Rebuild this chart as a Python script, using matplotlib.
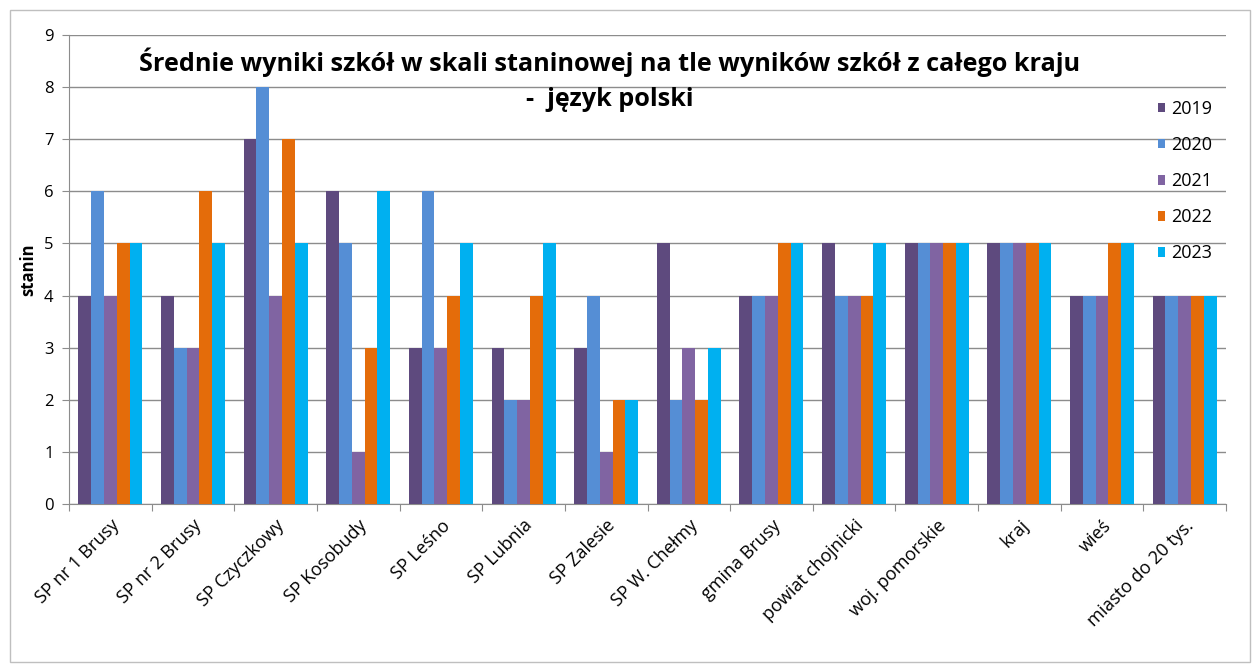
import matplotlib
matplotlib.use("Agg")
import matplotlib.pyplot as plt
import numpy as np
from matplotlib.patches import Rectangle

categories = ["SP nr 1 Brusy", "SP nr 2 Brusy", "SP Czyczkowy", "SP Kosobudy", "SP Leśno",
              "SP Lubnia", "SP Zalesie", "SP W. Chełmy", "gmina Brusy", "powiat chojnicki",
              "woj. pomorskie", "kraj", "wieś", "miasto do 20 tys."]
years = ["2019", "2020", "2021", "2022", "2023"]
v2019 = [4, 4, 7, 6, 3, 3, 3, 5, 4, 5, 5, 5, 4, 4]
v2020 = [6, 3, 8, 5, 6, 2, 4, 2, 4, 4, 5, 5, 4, 4]
v2021 = [4, 3, 4, 1, 3, 2, 1, 3, 4, 4, 5, 5, 4, 4]
v2022 = [5, 6, 7, 3, 4, 4, 2, 2, 5, 4, 5, 5, 5, 4]
v2023 = [5, 5, 5, 6, 5, 5, 2, 3, 5, 5, 5, 5, 5, 4]
series = [v2019, v2020, v2021, v2022, v2023]
colors = ["#5E4A7E", "#558ED5", "#8064A2", "#E46C0A", "#00B0F0"]

plt.rcParams['font.family'] = ['Open Sans', 'DejaVu Sans']

fig = plt.figure(figsize=(12.58, 6.71), dpi=100)
fig.patches.append(Rectangle((10/1258, 1-662/671), 1240/1258, 652/671, transform=fig.transFigure,
                             fill=False, edgecolor="#BFBFBF", linewidth=1))
ax = fig.add_axes([69/1258, 1-504/671, (1226-69)/1258, (504-35)/671])

n = len(categories)
x = np.arange(n)
bw = 0.155
for i, (s, c) in enumerate(zip(series, colors)):
    ax.bar(x + (i - 2) * bw, s, width=bw, color=c, label=years[i], zorder=3)

ax.set_xlim(-0.5, n - 0.5)
ax.set_ylim(0, 9)
ax.set_yticks(range(10))
ax.yaxis.grid(True, color="#8C8C8C", linewidth=1, zorder=0)
ax.set_axisbelow(True)
for sp in ["top", "right"]:
    ax.spines[sp].set_visible(False)
ax.spines["left"].set_color("#8C8C8C")
ax.spines["bottom"].set_color("#8C8C8C")
ax.set_xticks(np.arange(n + 1) - 0.5)
ax.set_xticklabels([])
ax.set_xticks(x, minor=True)
ax.set_xticklabels(categories, minor=True, rotation=45, ha="right", rotation_mode="anchor",
                   fontsize=13)
ax.tick_params(axis="x", which="minor", length=0, pad=9)
ax.tick_params(axis="x", which="major", length=5, color="#8C8C8C")
ax.tick_params(axis="y", length=5, color="#8C8C8C", labelsize=12, pad=6)
ax.set_ylabel("stanin", fontsize=12, fontweight="bold", labelpad=5)

fig.text(610/1258, 1-62/671, "Średnie wyniki szkół w skali staninowej na tle wyników szkół z całego kraju",
         ha="center", va="center", fontsize=18.2, fontweight="bold")
fig.text(610/1258, 1-100/671, "-  język polski", ha="center", va="center", fontsize=18.2, fontweight="bold")

leg = ax.legend(loc="upper left", bbox_to_anchor=(1158/1258, 1-100/671), bbox_transform=fig.transFigure,
                frameon=False, fontsize=13, handlelength=0.4, handleheight=0.45, labelspacing=1.0,
                handletextpad=0.3, borderpad=0, borderaxespad=0)

fig.savefig("out.png", dpi=100, facecolor="white")
